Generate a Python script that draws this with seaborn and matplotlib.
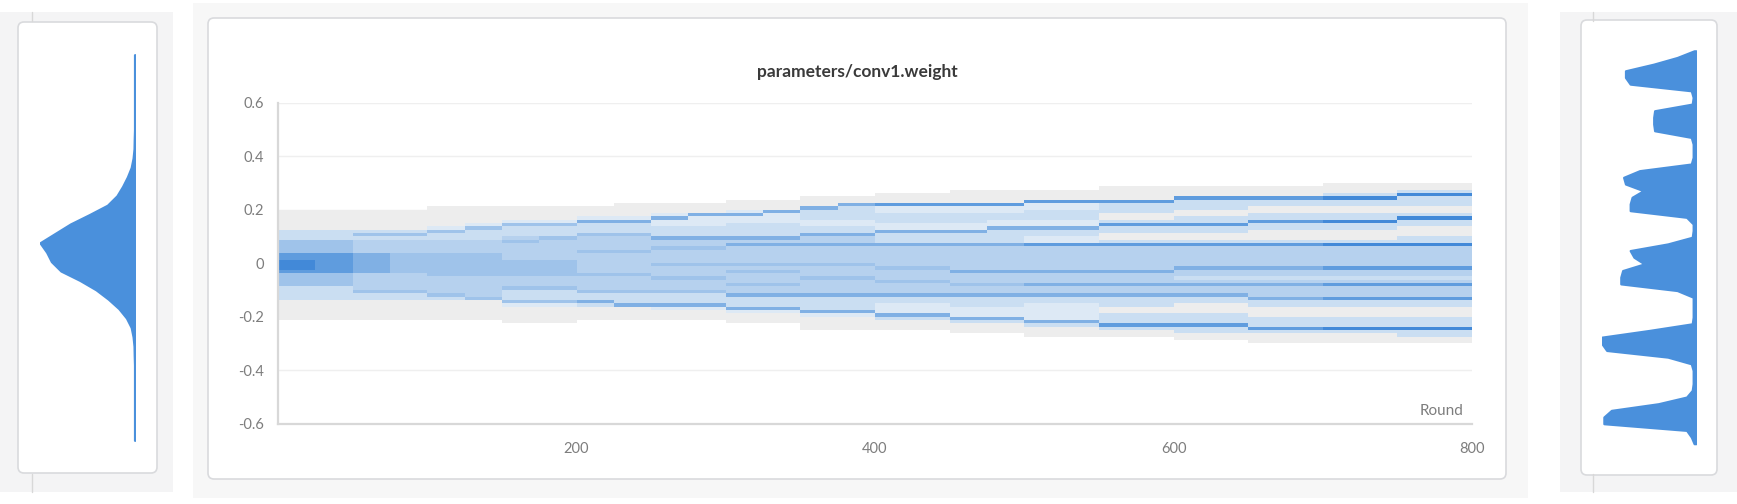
import numpy as np
import matplotlib
matplotlib.use('Agg')
import matplotlib.pyplot as plt
import matplotlib.ticker as mticker
from matplotlib.colors import ListedColormap, BoundaryNorm
from matplotlib.patches import FancyBboxPatch
from matplotlib.lines import Line2D
import seaborn as sns

sns.set_theme(style='white')
plt.rcParams['font.family'] = ['Lato', 'DejaVu Sans']
plt.rcParams['axes.unicode_minus'] = False

# ── Data ─────────────────────────────────────────────────────────────────────
# main panel: density level (0-9) per block of 25 rounds,
# each string runs over value bins of 0.0125 from +0.3 (first char) to -0.3
round_edges = [0, 25, 50, 75, 100, 125, 150, 175, 200, 225, 250, 275, 300,
               325, 350, 375, 400, 425, 450, 475, 500, 525, 550, 575, 600,
               625, 650, 675, 700, 725, 750, 775, 800]
value_top, value_step, n_value_bins = 0.3, 0.0125, 48
density_rows = [
    "00000000" "111111" "333" "5555" "77" "888" "7" "5555" "3333" "111111" "0000000",
    "00000000" "111111" "333" "5555" "777777" "5555" "3333" "111111" "0000000",
    "00000000" "111111" "3" "5" "3" "4444" "666666" "44444" "5" "33" "111111" "0000000",
    "00000000" "111111" "3" "5" "3" "4444" "555555" "44444" "5" "33" "111111" "0000000",
    "0000000" "111111" "2" "5" "33" "4444" "5555555" "44444" "5" "3" "111111" "0000000",
    "0000000" "11111" "2" "5" "333" "4444" "5555555" "444444" "5" "111111" "0000000",
    "0000000" "1111" "2" "5" "333" "4" "5" "44444" "55555" "444" "5" "333" "5" "2" "11111" "000000",
    "0000000" "1111" "2" "5" "333" "5" "4" "44444" "55555" "444" "5" "333" "5" "2" "11111" "000000",
    "0000000" "111" "2" "6" "333" "5" "4444" "5" "444444" "5" "4444" "5" "33" "6" "3" "1111" "0000000",
    "000000" "1111" "2" "6" "333" "5" "4444" "5" "444444" "5" "4444" "5" "333" "6" "1111" "0000000",
    "000000" "111" "2" "6" "22" "333" "6" "44" "5" "4444" "5" "444" "5" "444" "5" "333" "6" "2" "111" "0000000",
    "000000" "111" "6" "222" "333" "6" "44" "5" "4444" "5" "444" "5" "444" "5" "333" "6" "2" "111" "0000000",
    "00000" "111" "2" "6" "22" "3333" "6" "4" "6" "44444" "5" "4" "5" "444" "5" "44" "6" "333" "6" "2" "111" "000000",
    "00000" "111" "6" "222" "3333" "6" "4" "6" "44444" "5" "4" "5" "444" "5" "44" "6" "333" "6" "2" "111" "000000",
    "0000" "111" "6" "333" "22" "33" "6" "44" "6" "44444" "5" "444" "5" "4444" "6" "3333" "6" "2" "1111" "0000",
    "0000" "11" "6" "3333" "22" "33" "6" "44" "6" "44444" "5" "444" "5" "4444" "6" "3333" "6" "2" "1111" "0000",
    "000" "111" "7" "22" "333" "22" "6" "333" "6" "444444" "5" "444" "5" "444" "6" "33" "222" "6" "3" "111" "0000",
    "000" "111" "7" "22" "333" "22" "6" "333" "6" "444444" "5" "444" "5" "444" "6" "33" "222" "6" "3" "111" "0000",
    "00" "1111" "7" "22" "333" "22" "6" "333" "6" "4444444" "6" "444" "5" "44" "6" "333" "222" "6" "3" "111" "000",
    "00" "1111" "7" "22" "33" "22" "6" "3333" "6" "4444444" "6" "444" "5" "44" "6" "333" "222" "6" "3" "111" "000",
    "00" "111" "7" "22" "333" "22" "6" "33" "22" "7" "4444444" "6" "444" "6" "44" "6" "33" "22222" "6" "3" "111" "00",
    "00" "111" "7" "22" "333" "22" "6" "33" "22" "7" "4444444" "6" "444" "6" "44" "6" "33" "22222" "6" "3" "111" "00",
    "0" "1111" "7" "333" "11" "3" "7" "33" "11" "3" "7" "4444444" "6" "444" "6" "44" "6" "333" "11" "333" "7" "3" "11" "00",
    "0" "1111" "7" "333" "11" "3" "7" "33" "11" "3" "7" "4444444" "6" "444" "6" "44" "6" "333" "11" "333" "7" "3" "11" "00",
    "0" "111" "7" "333" "11" "33" "7" "33" "11" "3" "7" "444444" "6" "44" "3" "4" "6" "44" "6" "33" "111" "333" "7" "33" "11" "0",
    "0" "111" "7" "333" "11" "33" "7" "33" "11" "3" "7" "444444" "6" "44" "3" "4" "6" "44" "6" "33" "111" "333" "7" "33" "11" "0",
    "0" "111" "7" "33" "11" "33" "7" "33" "111" "3" "7" "444444" "6" "44" "3" "4" "6" "444" "6" "33" "111" "333" "7" "3" "111",
    "0" "111" "7" "33" "11" "33" "7" "33" "111" "3" "7" "444444" "6" "44" "3" "4" "6" "444" "6" "33" "111" "333" "7" "3" "111",
    "111" "3" "8" "33" "11" "33" "8" "33" "111" "3" "8" "444444" "7" "44" "3" "4" "7" "444" "7" "33" "111" "333" "8" "3" "111",
    "111" "3" "8" "33" "11" "33" "8" "33" "111" "3" "8" "444444" "7" "44" "3" "4" "7" "444" "7" "33" "111" "333" "8" "3" "111",
    "11" "3" "8" "333" "11" "3" "8" "33" "111" "33" "8" "444444" "7" "44" "3" "4" "7" "444" "7" "33" "111" "333" "8" "33" "11",
    "11" "3" "8" "333" "11" "3" "8" "33" "111" "33" "8" "444444" "7" "44" "3" "4" "7" "444" "7" "33" "111" "333" "8" "33" "11",
]

# left panel: histogram of the first round (relative counts, top to bottom)
first_centers = [0.205, 0.195, 0.185, 0.175, 0.165, 0.155, 0.145, 0.135, 0.125,
                 0.115, 0.105, 0.095, 0.085, 0.075, 0.065, 0.055, 0.045, 0.035,
                 0.025, 0.015, 0.005, -0.005, -0.015, -0.025, -0.035, -0.045,
                 -0.055, -0.065, -0.075, -0.085, -0.095, -0.105, -0.115, -0.125,
                 -0.135, -0.145, -0.155, -0.165, -0.175, -0.185, -0.195, -0.205]
first_counts = [0.5, 0.5, 0.5, 0.5, 0.5, 0.5, 0.5, 0.5, 0.5,
                0.8, 1, 2, 4, 8, 13, 19, 29, 48, 68, 84, 100, 93, 88, 78, 58, 41,
                28, 17, 9, 4, 2, 1, 0.8,
                0.5, 0.5, 0.5, 0.5, 0.5, 0.5, 0.5, 0.5, 0.5]

# right panel: histogram of the last round (relative counts, top to bottom)
last_centers = [0.295, 0.285, 0.275, 0.265, 0.255, 0.245, 0.235, 0.225, 0.215, 0.205,
                0.195, 0.185, 0.175, 0.165, 0.155, 0.145, 0.135, 0.125, 0.115, 0.105,
                0.095, 0.085, 0.075, 0.065, 0.055, 0.045, 0.035, 0.025, 0.015, 0.005,
                -0.005, -0.015, -0.025, -0.035, -0.045, -0.055, -0.065, -0.075, -0.085, -0.095,
                -0.105, -0.115, -0.125, -0.135, -0.145, -0.155, -0.165, -0.175, -0.185, -0.195,
                -0.205, -0.215, -0.225, -0.235, -0.245, -0.255, -0.265, -0.275, -0.285, -0.295]
last_counts = [2, 20, 45, 75, 75, 70, 5, 3, 4, 44,
               45, 45, 44, 5, 3, 3, 3, 5, 60, 77,
               75, 56, 68, 70, 70, 10, 3, 3, 4, 30,
               70, 66, 55, 78, 80, 80, 20, 3, 3, 3,
               3, 4, 50, 100, 100, 95, 30, 5, 3, 3,
               3, 4, 10, 40, 90, 98, 98, 10, 5, 2]

y_ticks = [-0.6, -0.4, -0.2, 0, 0.2, 0.4, 0.6]
x_ticks = [200, 400, 600, 800]

# ── Style ────────────────────────────────────────────────────────────────────
W, H = 1737, 504
LEVEL_COLORS = ['#ededed', '#dde9f5', '#cadef2', '#b6d1ee', '#9fc3ea',
                '#80b0e4', '#5f9cde', '#4289d8', '#2575d1']
FILL_BLUE = '#4a90dc'
TICK_GREY = '#7d7d7d'
LINE_GREY = '#d8d8d8'


def px_rect(x0, y0, x1, y1):
    return [x0 / W, 1 - y1 / H, (x1 - x0) / W, (y1 - y0) / H]


def card(fig, x0, y0, x1, y1, face, edge=None, rounding=0.06):
    patch = FancyBboxPatch((x0 / 100, (H - y1) / 100), (x1 - x0) / 100, (y1 - y0) / 100,
                           boxstyle=f'round,pad=0,rounding_size={rounding}',
                           transform=fig.dpi_scale_trans, facecolor=face,
                           edgecolor=edge if edge else 'none', linewidth=1.2, zorder=0)
    fig.add_artist(patch)


fig = plt.figure(figsize=(W / 100, H / 100), dpi=100)
fig.patch.set_facecolor('white')

# page backgrounds and cards
card(fig, 0, 12, 173, 492, '#f4f4f5', rounding=0.0)
card(fig, 193, 3, 1528, 498, '#f7f7f7', rounding=0.0)
card(fig, 1560, 12, 1737, 492, '#f4f4f5', rounding=0.0)
card(fig, 18, 22, 157, 473, 'white', '#d9dadd')
card(fig, 208, 18, 1506, 479, 'white', '#d9dadd')
card(fig, 1581, 20, 1717, 475, 'white', '#d9dadd')
for xp in (32, 1593):
    for ya, yb in ((12, 21), (474, 492)):
        fig.add_artist(Line2D([xp / W, xp / W], [1 - ya / H, 1 - yb / H],
                              transform=fig.transFigure, color=LINE_GREY, lw=1))

# ── Main panel ───────────────────────────────────────────────────────────────
levels = np.array([[int(c) for c in row.ljust(n_value_bins, '0')[:n_value_bins]]
                   for row in density_rows])
grid = np.ma.masked_equal(levels[:, ::-1].T, 0)
value_edges = value_top - value_step * np.arange(n_value_bins + 1)[::-1]

ax = fig.add_axes(px_rect(278, 102.7, 1472, 423.5))
ax.set_facecolor('none')
ax.pcolormesh(round_edges, value_edges, grid,
              cmap=ListedColormap(LEVEL_COLORS),
              norm=BoundaryNorm(np.arange(0.5, 10.5, 1), len(LEVEL_COLORS)),
              shading='flat', zorder=2)
ax.set_xlim(0, 800)
ax.set_ylim(-0.6, 0.6)
ax.set_xticks(x_ticks)
ax.set_yticks(y_ticks)
ax.yaxis.set_major_formatter(mticker.FuncFormatter(lambda v, _: '0' if abs(v) < 1e-9 else f'{v:g}'))
ax.set_axisbelow(True)
ax.yaxis.grid(True, color='#efefef', lw=1)
ax.xaxis.grid(False)
for s in ('top', 'right'):
    ax.spines[s].set_visible(False)
for s in ('left', 'bottom'):
    ax.spines[s].set_color(LINE_GREY)
    ax.spines[s].set_linewidth(1.6)
ax.tick_params(axis='x', direction='inout', length=12, width=1.2, color=LINE_GREY,
               labelcolor=TICK_GREY, labelsize=10.5, pad=7)
ax.tick_params(axis='y', direction='out', length=6, width=1.2, color=LINE_GREY,
               labelcolor=TICK_GREY, labelsize=10.5, pad=4)
ax.text(0.9925, 0.039, 'Round', transform=ax.transAxes, ha='right', va='center',
        color=TICK_GREY, fontsize=11)
fig.text(857 / W, 1 - 72 / H, 'parameters/conv1.weight', ha='center', va='center',
         fontsize=12.5, fontweight='bold', color='#3a3a3a')

# ── Side panels: first and last round histograms ─────────────────────────────
first_edges = [first_centers[0] + 0.005 - 0.01 * i for i in range(len(first_centers) + 1)][::-1]
last_edges = [last_centers[0] + 0.005 - 0.01 * i for i in range(len(last_centers) + 1)][::-1]

axl = fig.add_axes(px_rect(40, 50, 135, 445))
sns.histplot(y=first_centers, weights=first_counts, bins=first_edges, element='poly',
             fill=True, color=FILL_BLUE, alpha=1, edgecolor=FILL_BLUE, linewidth=1.6, ax=axl)
axl.set_xlim(100, 0)
axl.set_ylim(-0.21, 0.21)
axl.axis('off')

axr = fig.add_axes(px_rect(1602, 47.5, 1696, 447))
sns.histplot(y=last_centers, weights=last_counts, bins=last_edges, element='poly',
             fill=True, color=FILL_BLUE, alpha=1, edgecolor=FILL_BLUE, linewidth=1.6, ax=axr)
axr.set_xlim(100, 0)
axr.set_ylim(-0.3, 0.3)
axr.axis('off')

fig.savefig('out.png', dpi=100, facecolor=fig.get_facecolor())
plt.close(fig)
